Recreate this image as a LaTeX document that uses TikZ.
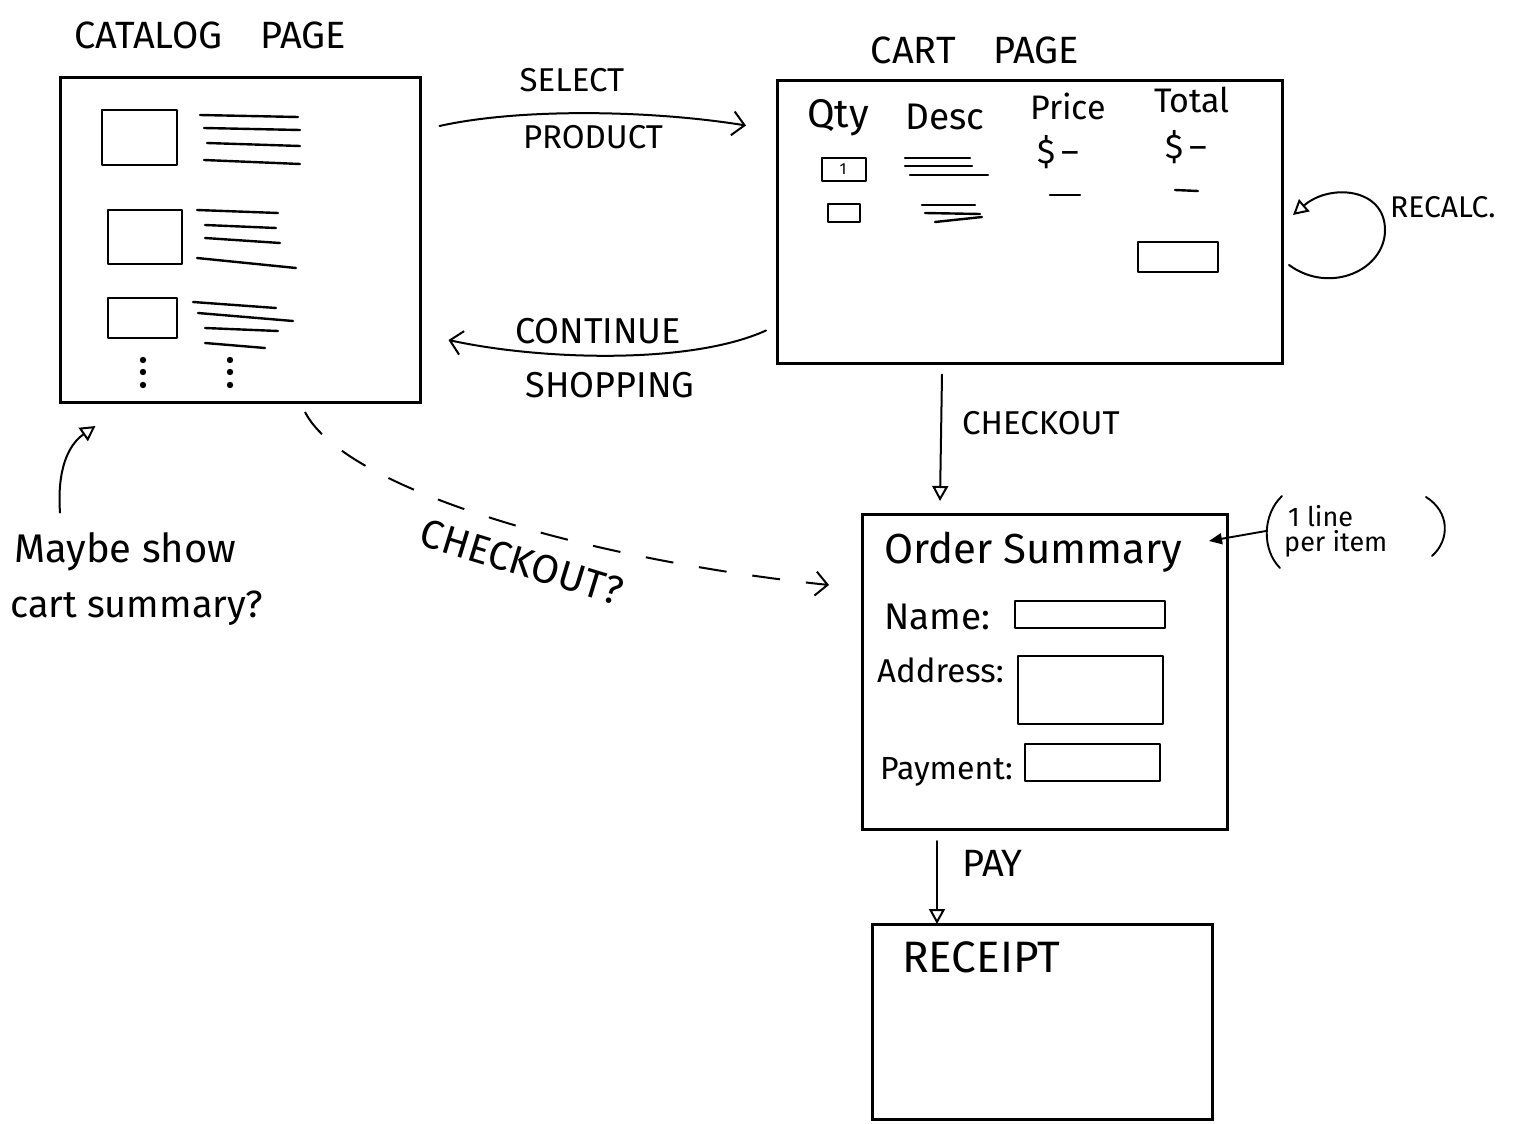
\documentclass[tikz,border=0pt]{standalone}
\usepackage{fontspec}
\setmainfont{Fira Sans}
\usetikzlibrary{arrows.meta,calc}
\begin{document}
\begin{tikzpicture}[x=1pt,y=-1pt,
  page/.style={draw, line width=3pt, inner sep=0pt},
  sk/.style={line width=2.4pt, line cap=round, line join=round},
  conn/.style={line width=2pt, line cap=round, -{Straight Barb[length=12pt,width=24pt,line width=2pt]}},
  tri/.style={line width=2pt, line cap=round, -{Triangle[open,length=15pt,width=16pt,line width=2pt]}},
  ttl/.style={font=\fontsize{38}{40}\selectfont},
  lbl/.style={font=\fontsize{33}{35}\selectfont},
  fs/.style={font=\fontsize{#1}{#1}\selectfont},
  small/.style={font=\fontsize{27}{28}\selectfont, inner sep=0pt}
]
\useasboundingbox[fill=white] (0,0) rectangle (1516,1124);

% ---------- catalog page ----------
\node[ttl] (cattitle) at (210,35) {CATALOG\quad PAGE};
\node[page, minimum width=360pt, minimum height=325pt] (catalog) at (240,240) {};
\begin{scope}[sk]
  \draw (102,110) rectangle (177,165);
  \draw (200,115) -- (298,117); \draw (204,128) -- (300,130);
  \draw (207,143) -- (300,146); \draw (204,160) -- (300,164);
  \draw (108,210) rectangle (182,264);
  \draw (197,210) -- (278,213); \draw (205,225) -- (276,228);
  \draw (205,238) -- (280,243); \draw (197,258) -- (296,268);
  \draw (108,298) rectangle (177,338);
  \draw (193,302) -- (276,308); \draw (198,313) -- (293,321);
  \draw (205,328) -- (278,331); \draw (205,343) -- (265,348);
\end{scope}
\foreach \y in {360,372,385} {\fill (143,\y) circle (3.2pt); \fill (230,\y) circle (3.2pt);}

% ---------- cart page ----------
\node[ttl] (carttitle) at (975,50) {CART\quad PAGE};
\node[page, minimum width=505pt, minimum height=282pt] (cart) at (1030,222) {};
\node[fs=40] (qty) at (838,118) {Qty};
\node[fs=37] (desc) at (945,117) {Desc};
\node[fs=34] (price) at (1068,106) {Price};
\node[fs=34] (total) at (1192,100) {Total};
\node[fs=34] (pr1) at (1058,152) {\$\,–};
\node[fs=34] (tt1) at (1186,147) {\$\,–};
\begin{scope}[sk]
  \draw (822,158) rectangle (866,181);
  \node[fs=16, inner sep=0pt] (one) at (843,169) {1};
  \draw (828,204) rectangle (860,222);
  \draw (905,158) -- (970,158); \draw (905,166) -- (972,166); \draw (910,175) -- (988,175);
  \draw (922,205) -- (975,205); \draw (925,213) -- (980,214); \draw (935,222) -- (982,217);
  \draw (1050,195) -- (1080,195);
  \draw (1175,190) -- (1198,191);
  \draw (1138,242) rectangle (1218,272);
\end{scope}
% recalc loop
\draw[tri] ([shift={(5,43)}]cart.east)
   .. controls (1330,295) and (1385,270) .. (1385,230)
   .. controls (1385,188) and (1330,183) .. ([shift={(9,-7)}]cart.east);
\node[fs=30, anchor=west, inner sep=0pt] (recalc) at (1390,207) {RECALC.};

% ---------- select / continue ----------
\draw[conn] ([shift={(18,50)}]catalog.north east)
   .. controls (520,108) and (650,110) .. ([shift={(-30,46)}]cart.north west);
\node[lbl] (select) at (572,80) {SELECT};
\node[lbl] (product) at (593,137) {PRODUCT};
\draw[conn] ([shift={(-10,-34)}]cart.south west)
   .. controls (690,365) and (540,360) .. ([shift={(27,-64)}]catalog.south east);
\node[fs=36] (continue) at (598,331) {CONTINUE};
\node[fs=36] (shopping) at (610,385) {SHOPPING};

% ---------- checkout ----------
\node[page, minimum width=365pt, minimum height=315pt] (order) at (1045,672) {};
\draw[tri] ([shift={(-88,10)}]cart.south) -- ([shift={(-105,-12)}]order.north);
\node[lbl, anchor=west, inner sep=0pt] (checkout) at (962,423) {CHECKOUT};

\node[fs=42, anchor=west, inner sep=0pt] (ordsum) at (884,552) {Order Summary};
\node[fs=37, anchor=west, inner sep=0pt] (name) at (884,617) {Name:};
\node[fs=33, anchor=west, inner sep=0pt] (address) at (877,670) {Address:};
\node[fs=32, anchor=west, inner sep=0pt] (payment) at (880,772) {Payment:};
\begin{scope}[sk]
  \draw (1015,601) rectangle (1165,628);
  \draw (1018,656) rectangle (1163,724);
  \draw (1025,744) rectangle (1160,781);
\end{scope}
% annotation
\node[small, anchor=west] (oneline) at (1288,516) {1 line};
\node[small, anchor=west] (peritem) at (1284,544) {per item};
\begin{scope}[sk, line width=1.9pt]
  \draw (1282,496) .. controls (1262,515) and (1262,550) .. (1280,568);
  \draw (1426,497) .. controls (1450,512) and (1450,540) .. (1432,556);
\end{scope}
\coordinate (annot) at (1266,531);
\draw[line width=1.9pt, line cap=round, -{Triangle[length=13pt,width=11pt]}]
   (annot) -- ([shift={(-20,28)}]order.north east);

% ---------- dashed checkout? ----------
\draw[line width=2pt, dash pattern=on 28pt off 26pt, -{Straight Barb[length=12pt,width=24pt,line width=2pt]}]
   ([shift={(65,8)}]catalog.south)
   .. controls (345,490) and (590,560) .. ([shift={(-32,-87)}]order.west);
\node[fs=40, rotate=-17, inner sep=2pt] (checkoutq) at (522,562) {CHECKOUT?};

% ---------- maybe show ----------
\node[fs=40, anchor=west, inner sep=0pt] (maybe) at (14,552) {Maybe show};
\node[fs=38, anchor=west, inner sep=0pt] (cartsum) at (10,608) {cart summary?};
\draw[tri] ([shift={(46,-20)}]maybe.north west)
   .. controls (57,470) and (68,445) .. ([shift={(37,22)}]catalog.south west);

% ---------- pay / receipt ----------
\node[page, minimum width=340pt, minimum height=195pt] (receipt) at (1042,1022) {};
\draw[tri] ([shift={(-108,10)}]order.south) -- ([shift={(-105,1)}]receipt.north);
\node[fs=38, anchor=west, inner sep=0pt] (pay) at (962,863) {PAY};
\node[fs=44, anchor=west, inner sep=0pt] (receipttxt) at (902,957) {RECEIPT};
\end{tikzpicture}
\end{document}
